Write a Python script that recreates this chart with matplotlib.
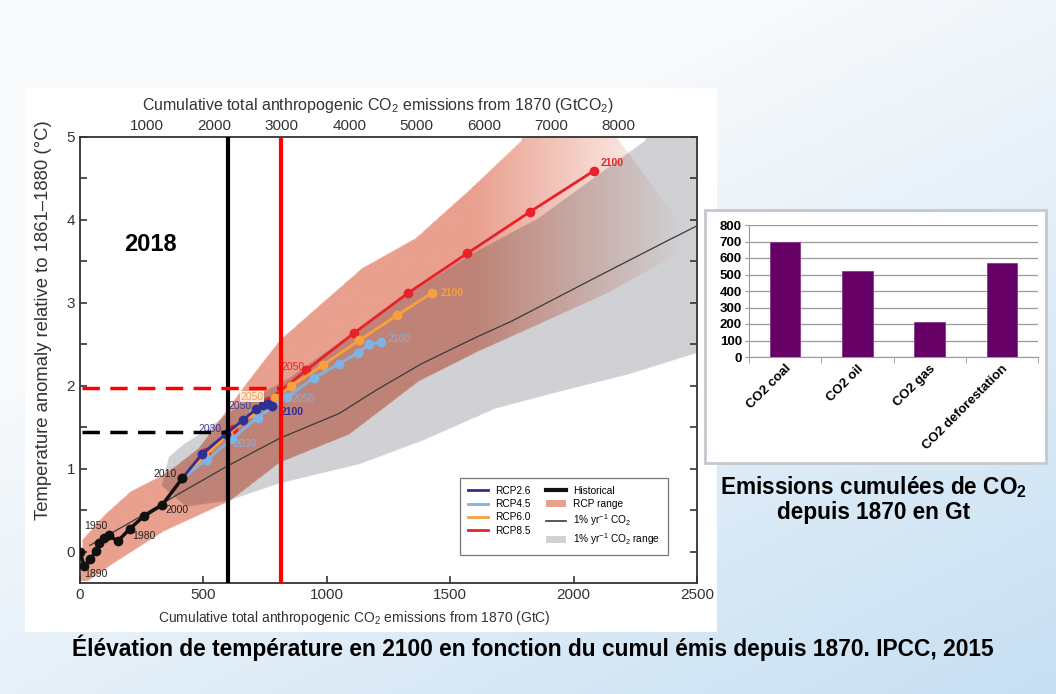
import numpy as np
import matplotlib
matplotlib.use("Agg")
import matplotlib.pyplot as plt
from matplotlib.path import Path
from matplotlib.patches import Patch, Rectangle
from matplotlib.lines import Line2D

plt.rcParams['font.family'] = ['Liberation Sans Narrow', 'Liberation Sans', 'DejaVu Sans']
plt.rcParams['mathtext.fontset'] = 'custom'
plt.rcParams['mathtext.rm'] = 'Liberation Sans'
plt.rcParams['mathtext.it'] = 'Liberation Sans:italic'
plt.rcParams['mathtext.bf'] = 'Liberation Sans:bold'

# --- data (GtC, degC) ---
hist_x = [0, 17, 41, 64, 77, 97, 117, 153, 202, 258, 334, 415]
hist_y = [0.0, -0.17, -0.09, 0.01, 0.11, 0.17, 0.20, 0.13, 0.28, 0.43, 0.57, 0.89]

rcp26_x = [415, 494, 590, 661, 712, 741, 760, 776]
rcp26_y = [0.89, 1.18, 1.42, 1.59, 1.72, 1.77, 1.78, 1.76]

rcp45_x = [415, 514, 615, 720, 838, 950, 1051, 1127, 1172, 1220]
rcp45_y = [0.89, 1.11, 1.36, 1.62, 1.87, 2.10, 2.27, 2.40, 2.50, 2.53]

rcp60_x = [415, 505, 600, 700, 790, 856, 983, 1131, 1284, 1425]
rcp60_y = [0.89, 1.15, 1.42, 1.67, 1.85, 2.00, 2.25, 2.55, 2.85, 3.12]

rcp85_x = [415, 510, 620, 760, 917, 1111, 1329, 1570, 1824, 2081]
rcp85_y = [0.89, 1.20, 1.48, 1.82, 2.19, 2.64, 3.12, 3.60, 4.10, 4.59]

onepct_x = [40, 200, 400, 600, 809, 1051, 1200, 1385, 1600, 1748, 2085, 2380, 2500]
onepct_y = [0.08, 0.35, 0.70, 1.04, 1.37, 1.67, 1.95, 2.27, 2.58, 2.78, 3.30, 3.75, 3.93]

rcp_range_x = [0, 10, 100, 205, 330, 394, 480, 556, 661, 809, 943, 1143, 1360, 1574, 1787, 1810, 2150,
               2450, 2420, 2150, 1884, 1614, 1373, 1091, 809, 608, 338, 137, 30]
rcp_range_y = [-0.35, 0.15, 0.45, 0.73, 0.92, 1.05, 1.25, 1.55, 1.98, 2.55, 2.90, 3.42, 3.78, 4.35, 4.95, 5.1, 5.1,
               3.90, 3.59, 3.14, 2.78, 2.42, 2.06, 1.42, 1.08, 0.62, 0.25, -0.13, -0.35]

onepct_range_x = [330, 360, 420, 500, 650, 850, 943, 1345, 1586, 1856, 2287, 2320, 2550,
                  2550, 2500, 2219, 1950, 1683, 1385, 1131, 809, 600, 430]
onepct_range_y = [0.80, 1.15, 1.30, 1.45, 1.78, 2.10, 2.30, 3.14, 3.59, 4.02, 4.95, 5.1, 5.1,
                  2.40, 2.40, 2.14, 1.94, 1.73, 1.34, 1.06, 0.83, 0.62, 0.55]

year_labels = [
    # text, x, y, colour, bold
    ("1890", 64, -0.27, "#222222", False),
    ("1950", 64, 0.31, "#222222", False),
    ("1980", 258, 0.19, "#222222", False),
    ("2000", 394, 0.50, "#222222", False),
    ("2010", 346, 0.94, "#222222", False),
    ("2030", 527, 1.48, "#3a3d9c", False),
    ("2050", 648, 1.76, "#3a3d9c", False),
    ("2100", 860, 1.69, "#2e3192", True),
    ("2030", 668, 1.30, "#7fb2e5", False),
    ("2050", 902, 1.84, "#7fb2e5", False),
    ("2100", 1292, 2.57, "#7fb2e5", False),
    ("2100", 1506, 3.12, "#f7a03c", True),
    ("2050", 862, 2.23, "#e8212a", False),
    ("2100", 2158, 4.69, "#e8212a", True),
]

threshold_gtc = [600, 813]
threshold_temp = [1.45, 1.97]

inset_cats = ["CO2 coal", "CO2 oil", "CO2 gas", "CO2 deforestation"]
inset_vals = [697, 523, 215, 570]

# colours
pink = np.array([233, 160, 142]) / 255
grey = np.array([208, 209, 212]) / 255

fig = plt.figure(figsize=(10.56, 6.94), dpi=100)

# slide background gradient
bg = fig.add_axes([0, 0, 1, 1], zorder=-10)
gx, gy = np.meshgrid(np.linspace(0, 1, 200), np.linspace(0, 1, 140))
t = np.clip(0.8 * gy + 0.6 * gx - 0.45, 0, 1)
top_c = np.array([248, 250, 252]) / 255
blue_c = np.array([196, 222, 242]) / 255
bg.imshow(top_c * (1 - t[..., None]) + blue_c * t[..., None], extent=(0, 1, 0, 1),
          aspect='auto', origin='upper')
bg.axis('off')

# white panel behind the main chart
fig.patches.append(Rectangle((25 / 1056, 1 - 632 / 694), 692 / 1056, 544 / 694,
                             transform=fig.transFigure, facecolor='white', edgecolor='none', zorder=-5))

ax = fig.add_axes([80 / 1056, 1 - 582.7 / 694, 617 / 1056, 445.7 / 694])
ax.set_xlim(0, 2500)
ax.set_ylim(-0.37, 5)

# ranges: grey plume, pink plume multiplied over it, pink fading out to the right
xs = np.linspace(0, 2500, 1251)
ys = np.linspace(-0.37, 5, 1075)
XX, YY = np.meshgrid(xs, ys)
pts = np.column_stack([XX.ravel(), YY.ravel()])
in_grey = Path(np.column_stack([onepct_range_x, onepct_range_y])).contains_points(pts).reshape(XX.shape)
in_pink = Path(np.column_stack([rcp_range_x, rcp_range_y])).contains_points(pts).reshape(XX.shape)
fade = np.clip(1 - (XX - 1600) / 850, 0, 1)[..., None]
img = np.ones(XX.shape + (3,))
img[in_grey] = grey
pink_eff = 1 - fade * (1 - pink)
img = np.where(in_pink[..., None], img * pink_eff, img)
ax.imshow(img, origin='lower', extent=(0, 2500, -0.37, 5), aspect='auto',
          interpolation='bilinear', zorder=0.5)

ax.plot(onepct_x, onepct_y, color='#3a3a3a', lw=0.9, zorder=2)

ax.plot(rcp85_x, rcp85_y, '-o', color='#e8212a', lw=2, ms=6, zorder=3)
ax.plot(rcp60_x, rcp60_y, '-o', color='#f7a03c', lw=2, ms=6, zorder=3.1)
ax.plot(rcp45_x, rcp45_y, '-o', color='#7fb2e5', lw=2, ms=6, zorder=3.2)
ax.plot(rcp26_x, rcp26_y, '-o', color='#2e3192', lw=2, ms=6, zorder=3.3)
ax.plot(hist_x, hist_y, '-o', color='#111111', lw=2.5, ms=6, zorder=3.5)

for txt, x, y, c, b in year_labels:
    ax.text(x, y, txt, color=c, fontsize=7.5, fontweight='bold' if b else 'normal',
            ha='center', va='center', zorder=4)
ax.text(697, 1.87, "2050", color='#f7a03c', fontsize=7.5, ha='center', va='center', zorder=4,
        bbox=dict(facecolor='white', edgecolor='none', pad=0.3, alpha=0.8))

# 2018 thresholds
ax.axvline(threshold_gtc[0], color='black', lw=3, zorder=5)
ax.axvline(threshold_gtc[1], color='#ff0000', lw=3, zorder=5)
ax.plot([10, threshold_gtc[0]], [threshold_temp[0]] * 2, color='black', lw=2.5,
        dashes=(5, 3), zorder=5)
ax.plot([10, threshold_gtc[1]], [threshold_temp[1]] * 2, color='#ff0000', lw=2.5,
        dashes=(5, 3), zorder=5)
ax.text(285, 3.7, "2018", fontsize=17, fontweight='bold', family='Liberation Sans',
        ha='center', va='center')

# axes styling
for s in ax.spines.values():
    s.set_linewidth(1.3)
    s.set_color('#333333')
ax.set_xticks([0, 500, 1000, 1500, 2000, 2500])
ax.set_yticks([0, 1, 2, 3, 4, 5])
ax.set_yticks(np.arange(0, 5.01, 0.5), minor=True)
ax.tick_params(axis='both', which='both', direction='in', right=True, labelsize=11,
               labelcolor='#333333', length=5, width=1.2, color='#333333')
ax.tick_params(axis='y', which='minor', length=5)
ax.set_xlabel("Cumulative total anthropogenic CO$_2$ emissions from 1870 (GtC)",
              fontsize=10, color='#333333', labelpad=5)
ax.xaxis.label.set_x(0.444)
ax.set_ylabel("Temperature anomaly relative to 1861–1880 (°C)", fontsize=13.3,
              color='#333333')
ax.yaxis.set_label_coords(-0.045, 0.589)

secax = ax.secondary_xaxis('top', functions=(lambda v: v * 3.667, lambda v: v / 3.667))
secax.set_xticks(range(1000, 9000, 1000))
secax.tick_params(direction='in', labelsize=11, labelcolor='#333333', length=5, width=1.2,
                  color='#333333', pad=3)
secax.set_xlabel("Cumulative total anthropogenic CO$_2$ emissions from 1870 (GtCO$_2$)",
                 fontsize=11.5, color='#333333', labelpad=6)
secax.xaxis.label.set_x(0.482)

handles = [
    Line2D([], [], color='#2e3192', lw=2),
    Line2D([], [], color='#7fb2e5', lw=2),
    Line2D([], [], color='#f7a03c', lw=2),
    Line2D([], [], color='#e8212a', lw=2),
    Line2D([], [], color='#111111', lw=3),
    Patch(facecolor=pink, edgecolor='none'),
    Line2D([], [], color='#3a3a3a', lw=1.2),
    Patch(facecolor=grey, edgecolor='none'),
]
labels = ["RCP2.6", "RCP4.5", "RCP6.0", "RCP8.5", "Historical", "RCP range",
          "1% yr$^{-1}$ CO$_2$", "1% yr$^{-1}$ CO$_2$ range"]
leg = ax.legend(handles, labels, ncol=2, loc='lower right', bbox_to_anchor=(0.962, 0.05),
                fontsize=7.3, frameon=True, fancybox=False, edgecolor='#555555',
                handlelength=2.0, columnspacing=1.5, borderpad=0.8, labelspacing=0.32,
                handletextpad=0.7)
leg.get_frame().set_linewidth(0.9)
leg.set_zorder(6)

# inset bar chart panel
fig.patches.append(Rectangle((705 / 1056, 1 - 463 / 694), 341 / 1056, 253 / 694,
                             transform=fig.transFigure, facecolor='white',
                             edgecolor='#c4c8cc', lw=2, zorder=-4))
bx = fig.add_axes([749 / 1056, 1 - 357 / 694, 289 / 1056, 132 / 694])
pos = np.arange(len(inset_cats))
bx.bar(pos, inset_vals, width=0.42, color='#660066', edgecolor='#8a3a8a', lw=0.6, zorder=3)
bx.set_xlim(-0.5, len(inset_cats) - 0.5)
bx.set_ylim(0, 800)
bx.set_yticks(range(0, 801, 100))
bx.yaxis.grid(True, color='#9a9a9a', lw=0.9, zorder=0)
bx.set_axisbelow(True)
for side in ['top', 'right']:
    bx.spines[side].set_visible(False)
for side in ['left', 'bottom']:
    bx.spines[side].set_color('#9a9a9a')
bx.set_xticks(pos)
bx.set_xticklabels(inset_cats, rotation=45, ha='right', rotation_mode='anchor',
                   fontsize=9.5, fontweight='bold', family='Liberation Sans')
bx.set_xticks(np.arange(-0.5, len(inset_cats), 1), minor=True)
bx.tick_params(axis='x', which='major', length=0, pad=4)
bx.tick_params(axis='x', which='minor', length=4, color='#9a9a9a')
bx.tick_params(axis='y', length=3, color='#9a9a9a', pad=2)
for lab in bx.get_yticklabels():
    lab.set_fontweight('bold')
    lab.set_family('Liberation Sans')
    lab.set_fontsize(9.5)

fig.text(874 / 1056, 1 - 487 / 694, "Emissions cumulées de CO$_\\mathbf{2}$", ha='center',
         va='center', fontsize=16.3, fontweight='bold', family='Liberation Sans')
fig.text(874 / 1056, 1 - 512 / 694, "depuis 1870 en Gt", ha='center', va='center',
         fontsize=16.3, fontweight='bold', family='Liberation Sans')
fig.text(533 / 1056, 1 - 648 / 694,
         "Élévation de température en 2100 en fonction du cumul émis depuis 1870. IPCC, 2015",
         ha='center', va='center', fontsize=16.4, fontweight='bold', family='Liberation Sans')

fig.savefig("out.png", dpi=100)
